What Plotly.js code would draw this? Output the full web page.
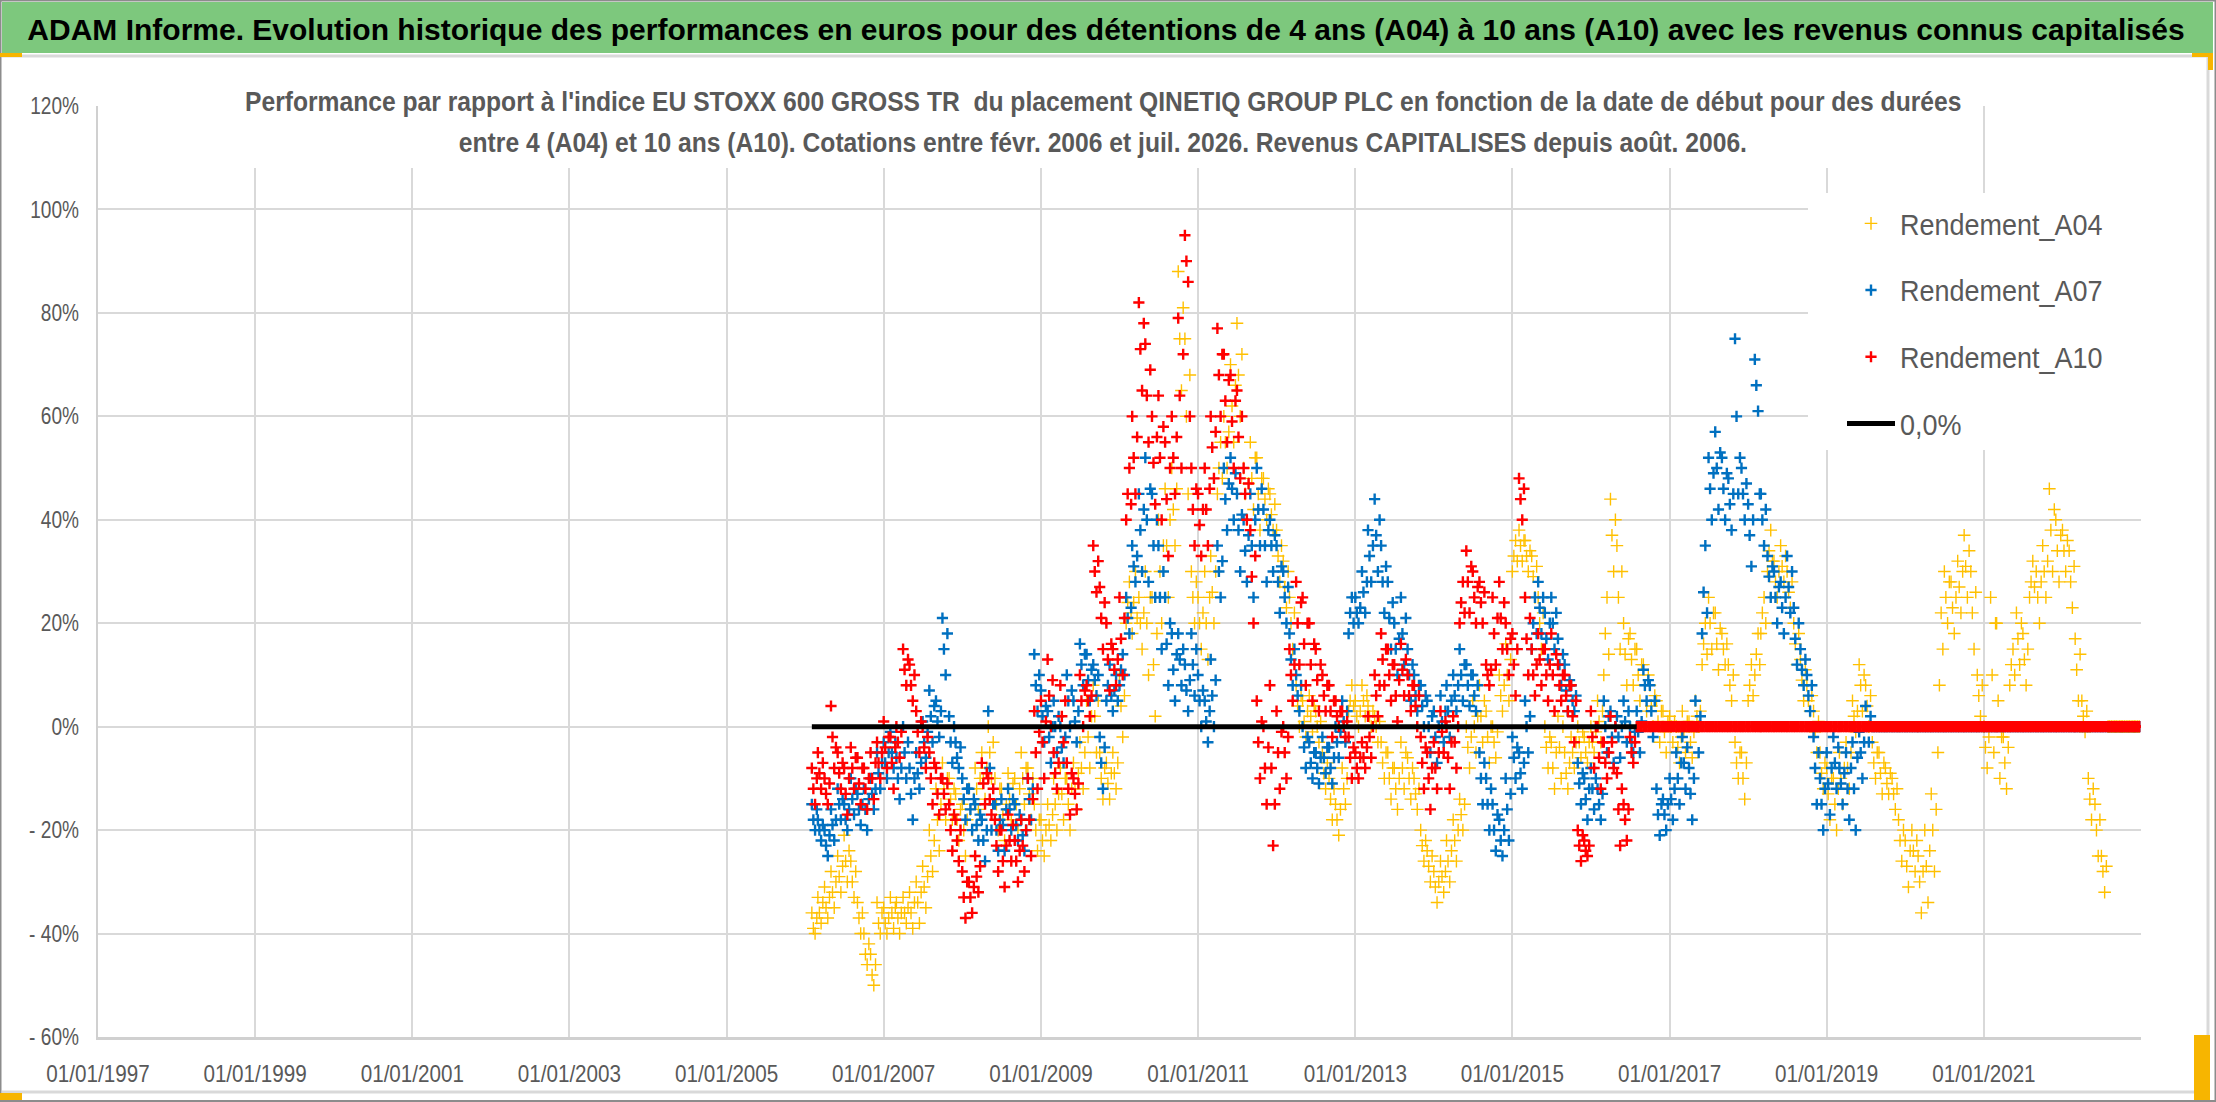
<!DOCTYPE html>
<html><head><meta charset="utf-8">
<script src="https://cdn.plot.ly/plotly-3.0.1.min.js"></script>
<style>html,body{margin:0;padding:0;background:#fff;overflow:hidden}#chart{width:2216px;height:1102px}</style>
</head><body><div id="chart"></div>
<script>
// ---------- DATA ----------
const xTickVals = ['1997-01-01','1999-01-01','2001-01-01','2003-01-01','2005-01-01','2007-01-01','2009-01-01','2011-01-01','2013-01-01','2015-01-01','2017-01-01','2019-01-01','2021-01-01'];
const xTickText = ['01/01/1997','01/01/1999','01/01/2001','01/01/2003','01/01/2005','01/01/2007','01/01/2009','01/01/2011','01/01/2013','01/01/2015','01/01/2017','01/01/2019','01/01/2021'];
const yTickVals = [-60,-40,-20,0,20,40,60,80,100,120];
const yTickText = ['- 60%','- 40%','- 20%','0%','20%','40%','60%','80%','100%','120%'];
const seriesNames = ['Rendement_A04','Rendement_A07','Rendement_A10','0,0%'];
const firstYear = 2006, firstMonth = 2, lastYear = 2022, lastMonth = 12;
const dayOfMonth = ['01','08','16','24']; // four readings per month

// performance (%) by start date, four readings per month
const rendementA04 = [
/*2006*/ -36,-39,-40,-37, -33,-36,-38,-34, -31,-35,-37,-33, -28,-32,-35,-30, -25,-29,-32,-27, -21,-26,-30,-24, -26,-30,-33,-28, -34,-37,-40,-36, -40,-44,-46,-42, -44,-48,-50,-46, -34,-38,-40,-36,
/*2007*/ -35,-38,-40,-37, -33,-36,-39,-35, -34,-37,-40,-36, -33,-36,-38,-35, -32,-36,-39,-34, -30,-34,-38,-32, -27,-31,-35,-29, -20,-25,-28,-22, -12,-18,-24,-15, -7,-12,-18,-10, -10,-14,-18,-12, -13,-18,-22,-16,
/*2008*/ -15,-20,-25,-18, -12,-16,-20,-14, -8,-12,-16,-10, -5,-10,-14,-8, 0,-5,-10,-3, -10,-15,-20,-12, -12,-17,-22,-15, -9,-14,-18,-11, -10,-15,-20,-12, -5,-10,-15,-8, -8,-13,-18,-10, -15,-20,-24,-18,
/*2009*/ -18,-22,-25,-20, -15,-19,-22,-17, -10,-15,-20,-13, -8,-13,-18,-10, -10,-15,-20,-12, -7,-12,-16,-9, -3,-8,-12,-5, 5,-2,-8,2, 8,2,-5,5, -5,-10,-14,-8, -7,-11,-14,-9, -5,-9,-12,-7,
/*2010*/ 10,4,-2,6, 20,24,28,22, 18,24,30,21, 25,20,15,22, 30,20,10,25, 25,12,2,18, 40,30,20,35, 46,35,25,40, 50,42,35,46, 88,75,65,81, 75,60,45,68, 30,25,20,28,
/*2011*/ 25,20,15,22, 30,20,13,25, 33,26,20,30, 45,50,55,48, 60,55,50,57, 70,62,55,66, 78,68,60,72, 50,45,40,47, 55,48,42,52, 52,45,38,48, 48,44,40,46, 45,41,38,43,
/*2012*/ 38,33,28,35, 32,27,23,30, 25,20,15,22, 8,4,0,6, 5,1,-2,3, 6,2,-1,4, 3,0,-3,1, -5,-9,-12,-7, -10,-14,-18,-12, -15,-18,-21,-16, -8,-12,-15,-10, 3,5,8,4,
/*2013*/ 5,2,0,3, 8,5,2,6, 4,2,0,3, 2,0,-3,1, -3,-7,-10,-5, -5,-10,-14,-8, -8,-12,-16,-10, -3,-8,-12,-5, -6,-10,-14,-8, -10,-13,-16,-12, -20,-23,-26,-22, -24,-27,-30,-25,
/*2014*/ -28,-31,-34,-30, -26,-29,-32,-28, -22,-26,-30,-24, -18,-22,-26,-20, -14,-17,-20,-15, 0,-4,-8,-2, 5,0,-5,2, 8,2,-3,5, 3,-2,-7,0, 0,-3,-6,-1, 10,6,3,8, 16,10,5,13,
/*2015*/ 30,33,36,32, 38,35,32,36, 36,33,30,34, 33,29,25,31, 25,20,15,22, 0,-4,-8,-2, -3,-8,-12,-5, 2,-4,-10,0, -5,-9,-12,-7, -2,-5,-8,-3, 0,-3,-6,-1, -2,-5,-7,-3,
/*2016*/ 0,-3,-5,-1, 5,1,-3,3, 10,18,25,14, 44,37,30,40, 35,25,15,30, 20,14,8,17, 18,13,8,15, 15,10,5,12, 12,8,3,10, 8,4,0,6, 5,1,-3,3, 3,-1,-5,1,
/*2017*/ 2,0,-3,1, 0,-4,-7,-2, 3,-1,-5,1, 1,-3,-6,-1, 5,2,0,3, 12,16,20,14, 25,20,15,22, 22,16,11,19, 18,15,12,16, 12,8,5,10, -3,-7,-10,-5, -5,-10,-14,-7,
/*2018*/ 5,8,12,6, 10,14,18,12, 18,22,25,20, 30,34,38,32, 32,28,25,30, 35,31,28,33, 30,26,23,28, 20,16,12,18, 13,9,5,11, 8,5,3,6, 3,-1,-5,1, -5,-9,-12,-7,
/*2019*/ -8,-13,-18,-10, -10,-15,-20,-12, -5,-10,-15,-8, -3,-8,-12,-5, 5,2,-1,3, 12,8,3,10, 8,4,0,6, -3,-7,-10,-5, -5,-9,-13,-7, -8,-11,-13,-9, -10,-13,-16,-12, -18,-22,-26,-20,
/*2020*/ -22,-27,-31,-24, -20,-24,-28,-22, -25,-30,-36,-28, -20,-27,-34,-24, -13,-20,-28,-16, -5,8,22,15, 30,25,20,28, 28,23,18,25, 32,27,22,30, 37,31,25,34, 30,22,15,26, 10,6,2,8,
/*2021*/ 0,-4,-8,-2, 25,10,-5,20, 20,5,-10,-2, -2,-7,-12,-4, 8,12,15,10, 22,17,12,20, 18,13,8,15, 25,28,32,27, 30,25,20,28, 35,30,25,32, 46,38,30,42, 40,34,28,37,
/*2022*/ 38,34,30,36, 34,28,23,31, 17,11,5,14, 5,2,-1,3, -10,-14,-18,-12, -15,-20,-25,-18, -25,-28,-32,-27, 0,0,0,0, 0,0,0,0, 0,0,0,0, 0,0,0,0, 0,0,0,0
];
const rendementA07 = [
/*2006*/ -15,-18,-20,-16, -18,-20,-22,-19, -20,-23,-25,-21, -16,-19,-22,-18, -12,-15,-18,-14, -15,-18,-20,-16, -10,-14,-17,-12, -13,-16,-19,-15, -12,-16,-20,-14, -10,-13,-16,-12, -5,-9,-12,-7,
/*2007*/ -3,-7,-10,-5, -1,-5,-8,-3, -6,-10,-14,-8, 0,-5,-10,-3, -8,-13,-18,-10, -5,-9,-12,-7, 1,-3,-6,-1, 7,2,-3,4, 5,1,-2,3, 21,15,10,18, 2,-3,-7,0, -3,-6,-8,-4,
/*2008*/ -10,-14,-18,-12, -12,-16,-20,-14, -15,-19,-22,-17, -18,-22,-26,-20, 3,-8,-20,-15, -15,-20,-24,-18, -14,-19,-24,-16, -12,-16,-20,-14, -15,-19,-22,-17, -18,-21,-24,-20, -10,-14,-18,-12, 14,8,3,10,
/*2009*/ 7,2,-3,4, 3,-2,-7,0, 5,0,-5,2, 0,-4,-7,-2, 10,5,0,7, 5,1,-3,3, 16,12,8,14, 14,9,5,11, 12,9,6,10, -2,-7,-12,-4, 5,8,12,6, 3,7,10,5,
/*2010*/ 8,11,14,10, 25,21,18,23, 35,31,28,33, 45,38,30,42, 52,40,28,46, 45,35,25,40, 35,25,15,30, 25,16,8,20, 18,11,5,14, 18,13,8,15, 12,7,3,9, 18,12,6,15,
/*2011*/ 10,5,0,7, 5,1,-3,3, 13,6,0,9, 35,30,25,32, 50,44,38,47, 52,46,40,49, 45,38,30,41, 40,34,28,37, 45,35,25,40, 50,42,35,46, 42,35,28,38, 40,35,30,37,
/*2012*/ 35,28,22,31, 30,25,20,27, 18,13,8,15, 10,6,3,8, 0,-4,-8,-2, -3,-7,-10,-5, -5,-8,-11,-6, -2,-6,-9,-4, -4,-8,-11,-6, 0,-3,-6,-1, 5,1,-3,3, 18,22,25,20,
/*2013*/ 25,22,20,23, 30,26,22,28, 38,33,28,35, 44,37,30,40, 35,28,22,31, 28,21,15,24, 20,15,10,17, 25,18,12,21, 15,10,5,12, 10,6,3,8, 8,4,0,6, 5,0,-5,2,
/*2014*/ 3,-2,-7,0, 6,1,-3,3, 8,3,-2,5, 10,6,3,8, 15,10,5,12, 12,8,4,10, 10,6,3,8, -5,-10,-15,-7, -10,-15,-20,-12, -15,-20,-24,-17, -18,-22,-25,-20, -10,-16,-22,-13,
/*2015*/ -2,-6,-10,-4, -5,-9,-12,-7, 5,0,-5,2, 15,20,25,18, 28,23,18,25, 22,17,13,20, 25,20,15,22, 17,12,8,14, 12,7,3,9, 8,5,3,6, -7,-11,-15,-9, -10,-14,-18,-12,
/*2016*/ -8,-12,-16,-10, -12,-15,-18,-13, 5,0,-5,2, 3,-2,-7,0, 2,-2,-6,0, 5,1,-3,3, 0,-3,-5,-1, 3,-1,-5,1, 11,8,5,9, 8,3,-2,5, -12,-17,-21,-15, -14,-17,-20,-15,
/*2017*/ -10,-14,-18,-12, -5,-10,-15,-7, -2,-7,-12,-4, -8,-13,-18,-10, 5,0,-5,2, 18,26,35,22, 52,46,40,49, 57,50,42,53, 52,46,40,49, 48,43,38,45, 75,60,45,52, 50,45,40,47,
/*2018*/ 43,37,31,40, 71,66,61,45, 45,40,35,42, 33,29,25,31, 30,25,20,27, 28,23,18,25, 33,27,22,30, 23,17,12,20, 15,11,8,13, 10,6,3,8, -2,-8,-15,-5, -10,-15,-20,-12,
/*2019*/ -5,-11,-17,-8, -2,-7,-12,-4, -8,-11,-15,-9, -5,-12,-18,-8, -3,-12,-20,-6, -1,-5,-10,-3, 4,0,-3,2, 0,0,0,0, 0,0,0,0, 0,0,0,0, 0,0,0,0, 0,0,0,0,
/*2020*/ 0,0,0,0, 0,0,0,0, 0,0,0,0, 0,0,0,0, 0,0,0,0, 0,0,0,0, 0,0,0,0, 0,0,0,0, 0,0,0,0, 0,0,0,0, 0,0,0,0, 0,0,0,0,
/*2021*/ 0,0,0,0, 0,0,0,0, 0,0,0,0, 0,0,0,0, 0,0,0,0, 0,0,0,0, 0,0,0,0, 0,0,0,0, 0,0,0,0, 0,0,0,0, 0,0,0,0, 0,0,0,0,
/*2022*/ 0,0,0,0, 0,0,0,0, 0,0,0,0, 0,0,0,0, 0,0,0,0, 0,0,0,0, 0,0,0,0, 0,0,0,0, 0,0,0,0, 0,0,0,0, 0,0,0,0, 0,0,0,0
];
const rendementA10 = [
/*2006*/ -8,-12,-15,-10, -5,-9,-12,-7, -10,-13,-15,-11, 4,-2,-8,-4, -5,-9,-12,-7, -8,-13,-17,-10, -4,-8,-12,-6, -6,-11,-15,-8, -8,-12,-16,-10, -5,-10,-14,-7, -3,-7,-10,-5,
/*2007*/ 1,-4,-8,-2, -2,-7,-12,-4, 0,-3,-6,-1, 15,11,8,13, 12,8,5,10, 3,-1,-5,1, 0,-4,-8,-2, -5,-10,-15,-7, -8,-13,-17,-10, -10,-13,-16,-11, -15,-20,-24,-17, -18,-22,-26,-20,
/*2008*/ -28,-33,-37,-30, -30,-33,-36,-31, -25,-29,-32,-27, -7,-11,-15,-9, -10,-14,-17,-12, -18,-23,-28,-20, -20,-26,-31,-23, -17,-22,-26,-19, -22,-26,-30,-24, -18,-23,-28,-20, -10,-18,-25,-14, 3,-5,-12,-1,
/*2009*/ 5,-3,-10,1, 13,6,0,9, -5,-9,-12,-7, 8,2,-3,5, -7,-12,-17,-9, -10,-13,-16,-11, 10,5,0,7, 8,5,2,6, 35,30,26,32, 27,21,15,24, 20,13,7,16, 15,11,8,13,
/*2010*/ 25,17,10,21, 40,45,50,43, 60,52,45,56, 82,73,65,78, 74,64,55,69, 60,51,43,56, 64,52,40,58, 55,44,33,50, 60,52,45,56, 79,64,50,72, 95,90,86,60, 50,42,35,46,
/*2011*/ 45,39,33,42, 50,42,35,46, 60,54,48,57, 77,68,60,72, 72,63,55,67, 68,59,50,63, 65,56,48,60, 50,45,40,47, 38,29,20,33, 5,-3,-10,1, 0,-8,-15,-4, 8,-8,-23,-15,
/*2012*/ 3,-5,-12,-1, 0,-5,-10,-2, 15,10,5,12, 28,20,12,24, 25,16,8,20, 20,12,5,16, 15,9,3,12, 10,6,3,8, 8,3,-2,5, 5,2,0,3, 3,0,-2,1, -2,-6,-10,-4,
/*2013*/ -5,-8,-10,-6, -3,-6,-8,-4, 2,-2,-6,0, 10,6,2,8, 18,13,8,15, 15,10,5,12, 12,6,1,9, 16,11,6,13, 10,6,3,8, 8,4,0,6, -2,-7,-12,-4, -5,-10,-16,-8,
/*2014*/ -3,-8,-12,-5, 3,-1,-5,1, 0,-6,-12,-3, 2,-3,-8,0, 20,24,28,22, 34,28,22,31, 30,25,20,27, 28,24,20,26, 12,10,8,11, 25,18,12,21, 28,21,15,24, 20,15,10,17,
/*2015*/ 18,12,6,15, 48,44,40,46, 25,17,10,21, 15,10,6,12, 18,13,8,15, 15,10,5,12, 18,10,3,14, 12,8,5,10, 10,6,3,8, 8,2,-3,5, -20,-23,-26,-21, -22,-24,-25,-23,
/*2016*/ 3,-2,-8,0, 0,-6,-12,-3, -3,-7,-10,-5, 2,-3,-8,0, -9,-16,-23,-12, -15,-18,-22,-16, -2,-5,-7,-3, 0,0,0,0, 0,0,0,0, 0,0,0,0, 0,0,0,0, 0,0,0,0,
/*2017*/ 0,0,0,0, 0,0,0,0, 0,0,0,0, 0,0,0,0, 0,0,0,0, 0,0,0,0, 0,0,0,0, 0,0,0,0, 0,0,0,0, 0,0,0,0, 0,0,0,0, 0,0,0,0,
/*2018*/ 0,0,0,0, 0,0,0,0, 0,0,0,0, 0,0,0,0, 0,0,0,0, 0,0,0,0, 0,0,0,0, 0,0,0,0, 0,0,0,0, 0,0,0,0, 0,0,0,0, 0,0,0,0,
/*2019*/ 0,0,0,0, 0,0,0,0, 0,0,0,0, 0,0,0,0, 0,0,0,0, 0,0,0,0, 0,0,0,0, 0,0,0,0, 0,0,0,0, 0,0,0,0, 0,0,0,0, 0,0,0,0,
/*2020*/ 0,0,0,0, 0,0,0,0, 0,0,0,0, 0,0,0,0, 0,0,0,0, 0,0,0,0, 0,0,0,0, 0,0,0,0, 0,0,0,0, 0,0,0,0, 0,0,0,0, 0,0,0,0,
/*2021*/ 0,0,0,0, 0,0,0,0, 0,0,0,0, 0,0,0,0, 0,0,0,0, 0,0,0,0, 0,0,0,0, 0,0,0,0, 0,0,0,0, 0,0,0,0, 0,0,0,0, 0,0,0,0,
/*2022*/ 0,0,0,0, 0,0,0,0, 0,0,0,0, 0,0,0,0, 0,0,0,0, 0,0,0,0, 0,0,0,0, 0,0,0,0, 0,0,0,0, 0,0,0,0, 0,0,0,0, 0,0,0,0
];
const zeroLineX = ['2006-02-01','2016-08-01'];
const zeroLineY = [0, 0];

const mainTitle = 'ADAM Informe. Evolution historique des performances en euros pour des détentions de 4 ans (A04) à 10 ans (A10) avec les revenus connus capitalisés';
const subTitle1 = "Performance par rapport à l'indice EU STOXX 600 GROSS TR  du placement QINETIQ GROUP PLC en fonction de la date de début pour des durées";
const subTitle2 = 'entre 4 (A04) et 10 ans (A10). Cotations entre févr. 2006 et juil. 2026. Revenus CAPITALISES depuis août. 2006.';

// ---------- BUILD ----------
const dates = [];
for (let y = firstYear; y <= lastYear; y++) {
  for (let m = 1; m <= 12; m++) {
    if (y === firstYear && m < firstMonth) continue;
    if (y === lastYear && m > lastMonth) continue;
    const mm = String(m).padStart(2, '0');
    dayOfMonth.forEach(d => dates.push(y + '-' + mm + '-' + d));
  }
}

const W = 2216, H = 1102, L = 98, R = 75, T = 106, B = 65;
const PW = W - L - R, PH = H - T - B;
const px = x => (x - L) / PW;
const py = y => 1 - (y - T) / PH;
const FONT = 'Liberation Sans, Arial, sans-serif';
const GRAY = '#595959';
const HANDLE = '#F7B500';
const Y_LABEL_RIGHT = 79; // right edge of the y tick labels, page pixels

function rect(x0, y0, x1, y1, fill, line, lw) {
  return {type: 'rect', xref: 'paper', yref: 'paper', x0: px(x0), x1: px(x1), y0: py(y1), y1: py(y0),
    fillcolor: fill || 'rgba(0,0,0,0)', line: {color: line || 'rgba(0,0,0,0)', width: lw || 0}, layer: 'above'};
}
function seg(x0, y0, x1, y1, color, w) {
  return {type: 'line', xref: 'paper', yref: 'paper', x0: px(x0), x1: px(x1), y0: py(y0), y1: py(y1),
    line: {color: color, width: w}, layer: 'above'};
}

const traces = [
  {type: 'scatter', mode: 'markers', x: dates, y: rendementA04, name: seriesNames[0], legendgroup: 'g1',
   marker: {symbol: 'cross-thin', size: 9, color: '#FFC000', line: {color: '#FFC000', width: 1.4}}},
  {type: 'scatter', mode: 'markers', x: dates, y: rendementA07, name: seriesNames[1], legendgroup: 'g2',
   marker: {symbol: 'cross-thin', size: 8, color: '#0070C0', line: {color: '#0070C0', width: 2.4}}},
  {type: 'scatter', mode: 'markers', x: dates, y: rendementA10, name: seriesNames[2], legendgroup: 'g3',
   marker: {symbol: 'cross-thin', size: 8, color: '#FF0000', line: {color: '#FF0000', width: 2.4}}},
  {type: 'scatter', mode: 'lines', x: zeroLineX, y: zeroLineY, name: seriesNames[3], legendgroup: 'g4',
   line: {color: '#000000', width: 5}}
];

const layout = {
  width: W, height: H,
  margin: {l: L, r: R, t: T, b: B, pad: 0},
  paper_bgcolor: '#ffffff', plot_bgcolor: '#ffffff',
  showlegend: true,
  title: {text: '<b>' + mainTitle + '</b>', xref: 'container', yref: 'container', x: 1106 / W, y: 1 - 29 / H,
          xanchor: 'center', yanchor: 'middle', font: {family: FONT, size: 30, color: '#000000'}},
  xaxis: {type: 'date', range: ['1997-01-01', '2023-01-01'], tickmode: 'array', tickvals: xTickVals, ticktext: xTickText,
          showgrid: true, gridcolor: '#D9D9D9', gridwidth: 2, showline: true, linecolor: '#D0D0D0', linewidth: 3,
          zeroline: false, ticks: 'outside', ticklen: 13, tickcolor: 'rgba(0,0,0,0)', tickangle: 0,
          tickfont: {family: FONT, size: 24, color: GRAY}, fixedrange: true},
  yaxis: {range: [-60, 120], tickmode: 'array', tickvals: yTickVals, ticktext: yTickText,
          showgrid: true, gridcolor: '#D9D9D9', gridwidth: 2, showline: true, linecolor: '#D0D0D0', linewidth: 2,
          zeroline: false, ticks: 'outside', ticklen: 11, tickcolor: 'rgba(0,0,0,0)',
          tickfont: {family: FONT, size: 23, color: GRAY}, fixedrange: true},
  legend: {x: px(1842), y: py(198), xanchor: 'left', yanchor: 'top', bgcolor: 'rgba(0,0,0,0)', borderwidth: 0,
           font: {family: FONT, size: 29, color: GRAY}, itemwidth: 48, traceorder: 'grouped', tracegroupgap: 26},
  annotations: [
    {xref: 'paper', yref: 'paper', x: px(1103), y: py(101), xanchor: 'center', yanchor: 'middle', showarrow: false,
     text: '<b>' + subTitle1 + '</b>', font: {family: FONT, size: 28, color: GRAY}},
    {xref: 'paper', yref: 'paper', x: px(1103), y: py(142), xanchor: 'center', yanchor: 'middle', showarrow: false,
     text: '<b>' + subTitle2 + '</b>', font: {family: FONT, size: 28, color: GRAY}}
  ],
  shapes: [
    rect(2, 2, 2213, 53, 'rgb(125,200,125)'),
    seg(2, 56, 2208, 56, '#D9D9D9', 3),
    seg(2208, 56, 2208, 1092, '#D9D9D9', 3),
    seg(2, 1092, 2208, 1092, '#D9D9D9', 3),
    rect(0.5, 0.5, 2215.5, 1101, null, '#8C8C8C', 2),
    rect(233, 62, 1956, 168, '#ffffff'),
    rect(1808, 193, 2141, 450, '#ffffff'),
    rect(0, 53, 22, 57, HANDLE),
    rect(2192, 53, 2213, 57, HANDLE),
    rect(2208, 53, 2213, 70, HANDLE),
    rect(0, 1093, 22, 1100, HANDLE),
    rect(2194, 1035, 2210, 1100, HANDLE)
  ]
};

// narrow the chart texts horizontally (the reference chart text is condensed)
const squeezeRules = [
  ['.annotation-text', 0.88],
  ['.legendtext', 0.93],
  ['.xtick text', 0.86],
  ['.ytick text', 0.83]
];
function squeeze(gd) {
  squeezeRules.forEach(([sel, f]) => {
    gd.querySelectorAll(sel).forEach(el => {
      if (el.getAttribute('data-sq')) return;
      const w = el.getComputedTextLength();
      if (w > 0) {
        el.setAttribute('textLength', (w * f).toFixed(1));
        el.setAttribute('lengthAdjust', 'spacingAndGlyphs');
        el.setAttribute('data-sq', '1');
      }
    });
  });
  // right-align the y tick labels at a common edge
  const host = gd.getBoundingClientRect();
  gd.querySelectorAll('.ytick text').forEach(el => {
    const r = el.getBoundingClientRect();
    const dx = (host.left + Y_LABEL_RIGHT) - r.right;
    const x0 = parseFloat(el.getAttribute('x')) || 0;
    el.setAttribute('x', (x0 + dx).toFixed(1));
  });
}

Plotly.newPlot('chart', traces, layout, {displayModeBar: false, staticPlot: true}).then(squeeze);
</script>
</body></html>
